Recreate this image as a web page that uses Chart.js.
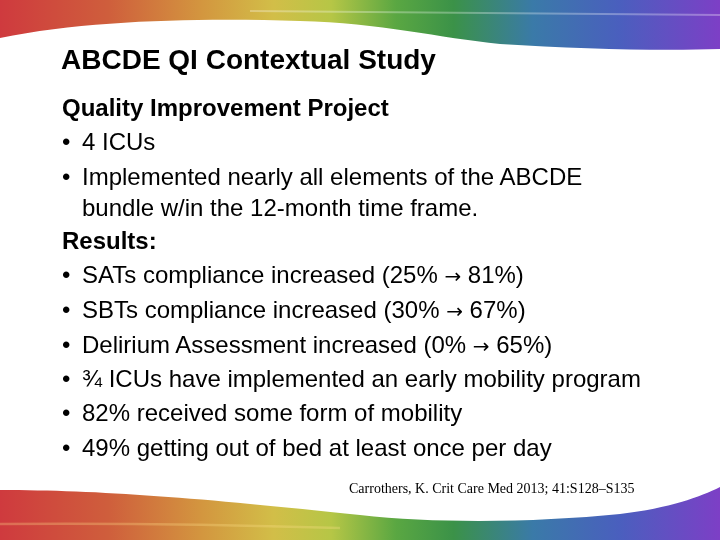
<!DOCTYPE html>
<html>
<head>
<meta charset="utf-8">
<script src="https://cdn.jsdelivr.net/npm/chart.js@4"></script>
<style>
html,body{margin:0;padding:0;background:#fff;}
#wrap{position:relative;width:720px;height:540px;overflow:hidden;}
#bg{position:absolute;left:0;top:0;}
.t{position:absolute;white-space:nowrap;color:#000;font-family:"Liberation Sans",Arial,sans-serif;}
#title{left:61px;top:43px;font-size:28px;font-weight:bold;line-height:34px;}
.line{font-size:24px;left:62px;line-height:28px;}
.line.bold{font-weight:bold;}
.bul{position:absolute;left:0;}
.txt{position:absolute;left:20px;}
.arr{font-family:"DejaVu Sans",sans-serif;font-size:20px;}
#cite{left:349px;top:481px;font-family:"Liberation Serif","Times New Roman",serif;font-size:14px;}
</style>
</head>
<body>
<div id="wrap">
<canvas id="bg" width="720" height="540"></canvas>
</div>
<script>
// Slide content
const titleText = "ABCDE QI Contextual Study";
const lineTexts = [
  "Quality Improvement Project",
  "4 ICUs",
  "Implemented nearly all elements of the ABCDE",
  "bundle w/in the 12-month time frame.",
  "Results:",
  "SATs compliance increased (25% \u2192 81%)",
  "SBTs compliance increased (30% \u2192 67%)",
  "Delirium Assessment increased (0% \u2192 65%)",
  "\u00BE ICUs have implemented an early mobility program",
  "82% received some form of mobility",
  "49% getting out of bed at least once per day"
];
const lineKinds = ["head","bullet","bullet","cont","head","bullet","bullet","bullet","bullet","bullet","bullet"];
const lineCenters = [108,142,177,208,241,275,310,345,379,413,448];
const citation = "Carrothers, K. Crit Care Med 2013; 41:S128\u2013S135";

const wrap = document.getElementById('wrap');
const t = document.createElement('div');
t.className = 't'; t.id = 'title'; t.textContent = titleText; wrap.appendChild(t);
function fillText(el, s) {
  const parts = s.split('\u2192');
  parts.forEach((p, k) => {
    el.appendChild(document.createTextNode(p));
    if (k < parts.length - 1) {
      const a = document.createElement('span'); a.className = 'arr'; a.textContent = '\u2192'; el.appendChild(a);
    }
  });
}
lineTexts.forEach((s, i) => {
  const d = document.createElement('div');
  d.className = 't line' + (lineKinds[i] === 'head' ? ' bold' : '');
  d.style.top = (lineCenters[i] - 14) + 'px';
  d.style.height = '28px';
  if (lineKinds[i] === 'head') {
    fillText(d, s);
  } else {
    if (lineKinds[i] === 'bullet') {
      const b = document.createElement('span'); b.className = 'bul'; b.textContent = '\u2022'; d.appendChild(b);
    }
    const x = document.createElement('span'); x.className = 'txt'; fillText(x, s); d.appendChild(x);
  }
  wrap.appendChild(d);
});
const c = document.createElement('div');
c.className = 't'; c.id = 'cite'; c.textContent = citation; wrap.appendChild(c);

// Rainbow swooshes drawn through a Chart.js plugin
function rainbow(ctx, w) {
  const g = ctx.createLinearGradient(0, 0, w, 0);
  g.addColorStop(0.00, '#cf3a3e');
  g.addColorStop(0.15, '#cf5e3c');
  g.addColorStop(0.28, '#d3963f');
  g.addColorStop(0.38, '#d2be48');
  g.addColorStop(0.46, '#b6c646');
  g.addColorStop(0.55, '#5aa742');
  g.addColorStop(0.63, '#3b9248');
  g.addColorStop(0.74, '#3a7aa8');
  g.addColorStop(0.86, '#4a5fbe');
  g.addColorStop(1.00, '#7d3fc6');
  return g;
}
const swooshPlugin = {
  id: 'swoosh',
  beforeDraw(chart) {
    const ctx = chart.ctx, w = chart.width;
    ctx.save();
    ctx.fillStyle = '#fff'; ctx.fillRect(0, 0, w, chart.height);
    // top band
    ctx.beginPath();
    ctx.moveTo(0, 0); ctx.lineTo(720, 0); ctx.lineTo(720, 49);
    ctx.bezierCurveTo(660, 51, 580, 49, 500, 44);
    ctx.bezierCurveTo(440, 38, 380, 23, 300, 21);
    ctx.bezierCurveTo(200, 18, 90, 20, 0, 38);
    ctx.closePath();
    ctx.fillStyle = rainbow(ctx, w); ctx.fill();
    // highlight streak
    ctx.globalAlpha = 0.3;
    ctx.strokeStyle = '#ffffff'; ctx.lineWidth = 2;
    ctx.beginPath(); ctx.moveTo(250, 11); ctx.bezierCurveTo(400, 13, 560, 15, 720, 15); ctx.stroke();
    ctx.globalAlpha = 1;
    // bottom band
    ctx.beginPath();
    ctx.moveTo(0, 490);
    ctx.bezierCurveTo(100, 490, 200, 498, 360, 515);
    ctx.bezierCurveTo(440, 524, 540, 522, 620, 514);
    ctx.bezierCurveTo(670, 508, 700, 497, 720, 487);
    ctx.lineTo(720, 540); ctx.lineTo(0, 540); ctx.closePath();
    ctx.fillStyle = rainbow(ctx, w); ctx.fill();
    ctx.globalAlpha = 0.3;
    ctx.strokeStyle = '#ffe08a'; ctx.lineWidth = 2.5;
    ctx.beginPath(); ctx.moveTo(0, 524); ctx.bezierCurveTo(120, 523, 240, 525, 340, 528); ctx.stroke();
    ctx.restore();
  }
};
new Chart(document.getElementById('bg'), {
  type: 'line',
  data: { labels: [], datasets: [] },
  options: {
    responsive: false, animation: false,
    plugins: { legend: { display: false }, tooltip: { enabled: false } },
    scales: { x: { display: false }, y: { display: false } }
  },
  plugins: [swooshPlugin]
});
</script>
</body>
</html>
